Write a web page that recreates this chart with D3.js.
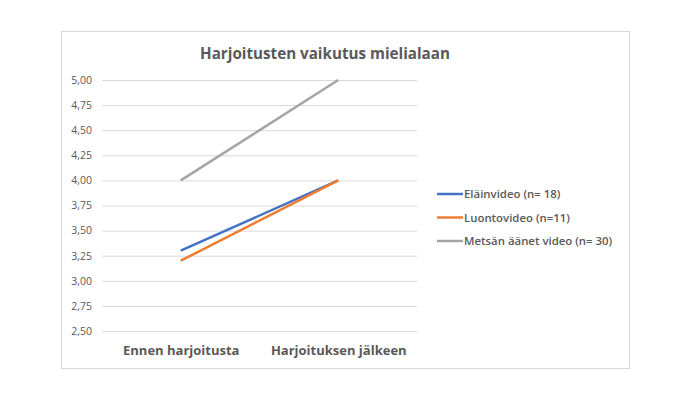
<!DOCTYPE html>
<html lang="fi">
<head>
    <meta charset="UTF-8">
    <title>Harjoitusten vaikutus mielialaan</title>
    <script src="https://d3js.org/d3.v7.min.js"></script>
    <style>
        body { margin: 0; background: #fff; }
        svg text { font-family: "Open Sans", "Liberation Sans", sans-serif; fill: #595959; }
    </style>
</head>
<body>
<script>
    // data
    const categories = ["Ennen harjoitusta", "Harjoituksen jälkeen"];
    const seriesNames = ["Eläinvideo (n= 18)", "Luontovideo (n=11)", "Metsän äänet video (n= 30)"];
    const elainvideo = [3.30, 4.00];
    const luontovideo = [3.20, 4.00];
    const metsanAanet = [4.00, 5.00];
    const yTicks = [2.5, 2.75, 3.0, 3.25, 3.5, 3.75, 4.0, 4.25, 4.5, 4.75, 5.0];
    const colors = ["#4472C4", "#ED7D31", "#A5A5A5"];

    const series = [elainvideo, luontovideo, metsanAanet];

    const svg = d3.select("body").append("svg")
        .attr("width", 690)
        .attr("height", 401);

    // chart border
    svg.append("rect")
        .attr("x", 61.5).attr("y", 31.5)
        .attr("width", 568).attr("height", 337)
        .attr("fill", "#fff")
        .attr("stroke", "#D9D9D9");

    // title
    svg.append("text")
        .attr("x", 325).attr("y", 59)
        .attr("text-anchor", "middle")
        .attr("font-size", 15.2)
        .attr("font-weight", "bold")
        .text("Harjoitusten vaikutus mielialaan");

    const plotLeft = 102, plotRight = 417;

    const y = d3.scaleLinear().domain([2.5, 5]).range([331, 80]);
    const x = d3.scalePoint().domain(categories).range([plotLeft, plotRight]).padding(0.5);

    // gridlines + y labels
    const yAxis = d3.axisLeft(y)
        .tickValues(yTicks)
        .tickSize(-(plotRight - plotLeft))
        .tickPadding(10)
        .tickFormat(d => d3.format(".2f")(d).replace(".", ","));

    const gy = svg.append("g")
        .attr("transform", `translate(${plotLeft},0)`)
        .call(yAxis);
    gy.select(".domain").remove();
    gy.selectAll(".tick line").attr("stroke", "#D9D9D9");
    gy.selectAll(".tick text")
        .attr("font-size", 10.5)
        .attr("fill", "#595959")
        .style("font-family", "'Open Sans', sans-serif");

    // x labels
    const xAxis = d3.axisBottom(x).tickSize(0).tickPadding(0);
    const gx = svg.append("g")
        .attr("transform", "translate(0,346)")
        .call(xAxis);
    gx.select(".domain").remove();
    gx.selectAll(".tick text")
        .attr("font-size", 13)
        .attr("font-weight", "bold")
        .attr("fill", "#595959")
        .attr("dy", "0.71em")
        .style("font-family", "'Open Sans', sans-serif");

    // lines
    const line = d3.line()
        .x((d, i) => x(categories[i]))
        .y(d => y(d));

    svg.selectAll(".series")
        .data(series)
        .enter()
        .append("path")
        .attr("class", "series")
        .attr("d", d => line(d))
        .attr("fill", "none")
        .attr("stroke", (d, i) => colors[i])
        .attr("stroke-width", 2.5);

    // legend
    const legend = svg.selectAll(".legend")
        .data(seriesNames)
        .enter()
        .append("g")
        .attr("class", "legend")
        .attr("transform", (d, i) => `translate(437,${194 + i * 23.5})`);

    legend.append("line")
        .attr("x1", 0).attr("x2", 26)
        .attr("stroke", (d, i) => colors[i])
        .attr("stroke-width", 2.5);

    legend.append("text")
        .attr("x", 27)
        .attr("dy", "0.35em")
        .attr("font-size", 11.4)
        .attr("font-weight", 600)
        .text(d => d);
</script>
</body>
</html>
